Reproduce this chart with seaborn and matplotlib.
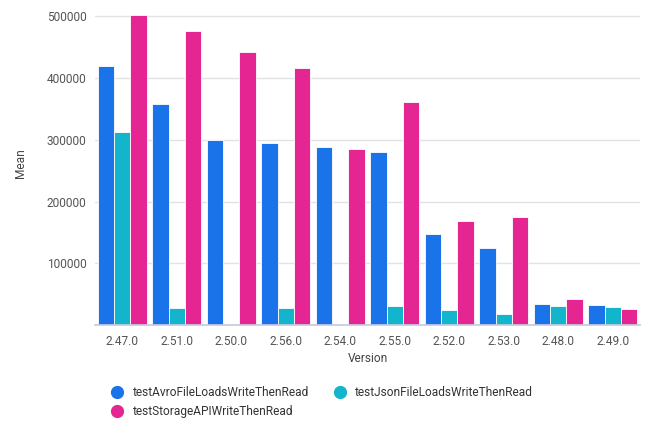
import matplotlib
matplotlib.use("Agg")
import matplotlib.pyplot as plt
from matplotlib.lines import Line2D
import seaborn as sns
import pandas as pd

versions = ["2.47.0", "2.51.0", "2.50.0", "2.56.0", "2.54.0", "2.55.0", "2.52.0", "2.53.0", "2.48.0", "2.49.0"]
series = ["testAvroFileLoadsWriteThenRead", "testJsonFileLoadsWriteThenRead", "testStorageAPIWriteThenRead"]
avro = [419000, 357500, 299000, 294500, 288000, 280000, 147000, 124500, 34000, 32500]
json_ = [312000, 27500, 0, 27500, 0, 31000, 24000, 18000, 31000, 29000]
storage = [503000, 477000, 442000, 416000, 285000, 361000, 168000, 175000, 42000, 26000]
colors = ["#1a73e8", "#12b5cb", "#e52592"]

rows = []
for name, vals in zip(series, [avro, json_, storage]):
    for v, m in zip(versions, vals):
        rows.append({"Version": v, "Series": name, "Mean": m})
df = pd.DataFrame(rows)

sns.set_theme(style="white")
plt.rcParams["font.family"] = ["Roboto", "DejaVu Sans"]

fig = plt.figure(figsize=(6.5, 4.42), dpi=100)
ax = fig.add_axes([95/650, 1-325/442, 545/650, 324/442])

sns.barplot(data=df, x="Version", y="Mean", hue="Series", order=versions,
            hue_order=series, palette=colors, width=0.9, saturation=1,
            edgecolor="white", linewidth=0.6, ax=ax, legend=False)

ax.set_ylim(0, 525000)
ax.set_xlim(-0.5, len(versions) - 0.5)
ax.set_yticks([0, 100000, 200000, 300000, 400000, 500000])
ax.set_yticklabels(["", "100000", "200000", "300000", "400000", "500000"])
ax.yaxis.grid(True, color="#e3e3e3", linewidth=1)
ax.set_axisbelow(True)
for s in ["top", "right", "left"]:
    ax.spines[s].set_visible(False)
ax.spines["bottom"].set_color("#c6cbe0")
ax.tick_params(axis="both", length=0, labelsize=8.6, colors="#555555")
ax.tick_params(axis="x", pad=7)
ax.tick_params(axis="y", pad=6)
ax.set_xlabel("Version", fontsize=8.6, color="#444444", labelpad=3)
ax.set_ylabel("Mean", fontsize=8.6, color="#444444", labelpad=14)

handles = [Line2D([0], [0], marker="o", linestyle="none", markersize=8.5,
                  markerfacecolor=c, markeredgecolor=c) for c in colors]
order = [0, 2, 1]
fig.legend([handles[i] for i in order], [series[i] for i in order],
           loc="upper left", bbox_to_anchor=(0.155, 0.15),
           ncol=2, frameon=False, fontsize=8.6, handletextpad=0.75,
           columnspacing=2.1, labelspacing=0.5, handlelength=1.0,
           labelcolor="#333333")

fig.savefig("out.png", dpi=100)
